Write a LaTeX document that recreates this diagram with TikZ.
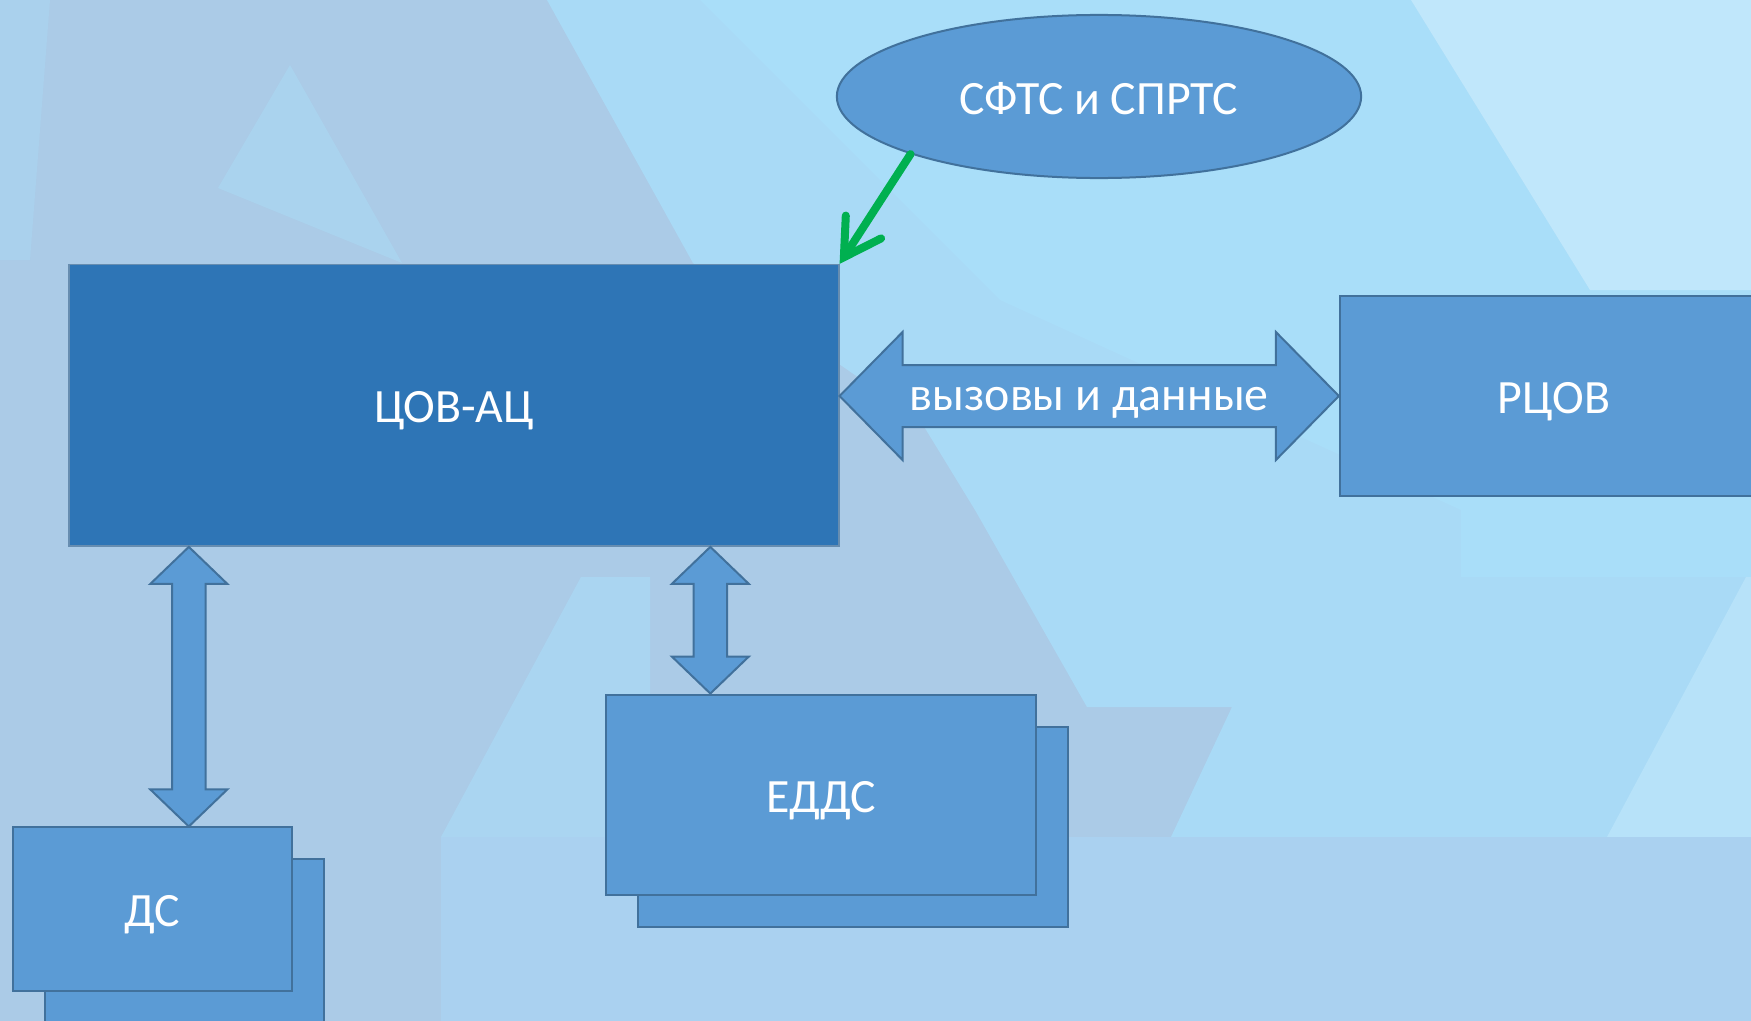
\documentclass[tikz,border=0pt]{standalone}
\usepackage{fontspec}
\setmainfont{Carlito}
\usetikzlibrary{arrows.meta,shapes.geometric,calc}
\definecolor{bgGrey}{HTML}{ABCBE7}
\definecolor{bgCyan}{HTML}{A9DAF6}
\definecolor{bgCyanB}{HTML}{A9DEF9}
\definecolor{bgLight}{HTML}{C0E7FB}
\definecolor{bgBottom}{HTML}{AAD1F0}
\definecolor{boxfill}{HTML}{5B9BD5}
\definecolor{boxdark}{HTML}{2E75B6}
\definecolor{bdr}{HTML}{41719C}
\definecolor{grn}{HTML}{00B050}
\begin{document}
\begin{tikzpicture}[x=0.01cm,y=-0.01cm,
  lbl/.style={text=white,font=\fontsize{13.6}{16}\selectfont,text height=0.35cm,text depth=0cm},
  box/.style={draw=bdr,fill=boxfill,line width=0.02cm,inner sep=0pt,lbl},
  darkbox/.style={draw=bdr!80!white,fill=boxdark,line width=0.015cm,inner sep=0pt,lbl},
  blockarrow/.style={draw=bdr,fill=boxfill,line width=0.02cm,line join=miter},
  greenarrow/.style={draw=grn,line width=0.08cm,line cap=round,
    -{Straight Barb[length=0.36cm,width=0.42cm,line cap=round]}}]
\clip (0,0) rectangle (1751,1021);
% background facets
\fill[bgGrey] (0,0) rectangle (1751,1021);
\fill[bgCyan] (547,0) -- (1751,0) -- (1751,837) -- (1171,837) -- (1232,707) -- (1087,707) -- (975,510) -- (920,420) -- (693,263) -- cycle;
\fill[bgCyanB] (700,0) -- (1411,0) -- (1590,290) -- (1751,290) -- (1751,577) -- (1461,577) -- (1461,510) -- (1000,300) -- cycle;
\fill[bgLight] (1411,0) -- (1751,0) -- (1751,290) -- (1590,290) -- cycle;
\fill[bgLight!60!bgCyan] (1746,577) -- (1751,577) -- (1751,837) -- (1607,837) -- cycle;
\fill[bgCyan!50!bgGrey] (290,65) -- (218,188) -- (402,263) -- cycle;
\fill[bgCyan!70!bgGrey] (581,577) -- (650,577) -- (650,837) -- (441,837) -- cycle;
\fill[bgBottom] (441,837) -- (1751,837) -- (1751,1021) -- (441,1021) -- cycle;
\fill[bgCyan!40!bgGrey] (0,0) -- (50,0) -- (30,260) -- (0,260) -- cycle;

% nodes
\node[darkbox,minimum width=7.694cm,minimum height=2.813cm] (c) at (453.9,405.4) {ЦОВ-АЦ};
\node[box,minimum width=4.28cm,minimum height=2.0cm] (r) at (1554,396) {РЦОВ};
\node[box,ellipse,minimum width=5.24cm,minimum height=1.63cm] (s) at (1099,96.5) {СФТС и СПРТС};
\node[box,minimum width=2.781cm,minimum height=1.63cm] (dback) at (184.5,941) {};
\node[box,minimum width=2.781cm,minimum height=1.63cm] (d) at (152.5,909) {ДС};
\node[box,minimum width=4.3cm,minimum height=2.0cm] (eback) at (853.2,826.8) {};
\node[box,minimum width=4.3cm,minimum height=2.0cm] (e) at (821.3,794.6) {ЕДДС};

% green arrow
\draw[greenarrow] (s.197) -- (c.north east);

% horizontal double block arrow
\coordinate (hL) at (c.east |- r.west);
\coordinate (hR) at (r.west);
\draw[blockarrow] (hL) -- ($(hL)+(63,-64)$) -- ($(hL)+(63,-31)$) -- ($(hR)+(-63,-31)$) -- ($(hR)+(-63,-64)$) -- (hR)
  -- ($(hR)+(-63,64)$) -- ($(hR)+(-63,31)$) -- ($(hL)+(63,31)$) -- ($(hL)+(63,64)$) -- cycle;
\node[lbl,inner sep=0pt,text height=0.28cm] (hlab) at ($(hL)!0.5!(hR)$) {вызовы и данные};

% vertical double block arrow to ДС
\coordinate (aT) at ($(c.south west)+(120.6,0)$);
\coordinate (aB) at (aT |- d.north);
\draw[blockarrow] (aT) -- ($(aT)+(38.5,37)$) -- ($(aT)+(16.8,37)$) -- ($(aB)+(16.8,-37)$) -- ($(aB)+(38.5,-37)$) -- (aB)
  -- ($(aB)+(-38.5,-37)$) -- ($(aB)+(-16.8,-37)$) -- ($(aT)+(-16.8,37)$) -- ($(aT)+(-38.5,37)$) -- cycle;

% vertical double block arrow to ЕДДС
\coordinate (bT) at ($(c.south west)+(642.1,0)$);
\coordinate (bB) at (bT |- e.north);
\draw[blockarrow] (bT) -- ($(bT)+(38.5,37)$) -- ($(bT)+(16.8,37)$) -- ($(bB)+(16.8,-37)$) -- ($(bB)+(38.5,-37)$) -- (bB)
  -- ($(bB)+(-38.5,-37)$) -- ($(bB)+(-16.8,-37)$) -- ($(bT)+(-16.8,37)$) -- ($(bT)+(-38.5,37)$) -- cycle;
\end{tikzpicture}
\end{document}
